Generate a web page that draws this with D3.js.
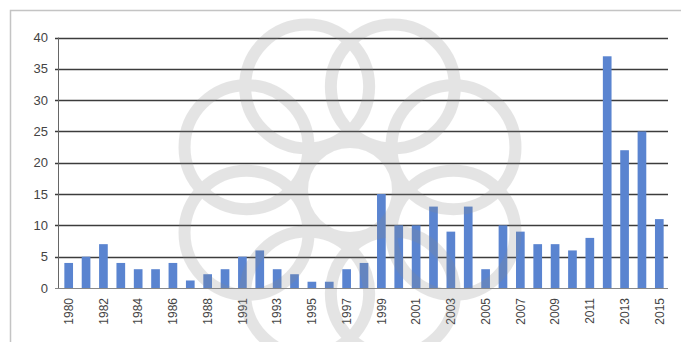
<!DOCTYPE html>
<html>
<head>
<meta charset="utf-8">
<script src="https://cdn.jsdelivr.net/npm/d3@7"></script>
<style>
  body { margin: 0; background: #fff; }
  svg { display: block; }
</style>
</head>
<body>
<div id="chart"></div>
<script>
// years as shown on the axis (one year is skipped between 1988 and 1991)
const years = ["1980", "1981", "1982", "1983", "1984", "1985", "1986", "1987", "1988", "1990",
  "1991", "1992", "1993", "1994", "1995", "1996", "1997", "1998", "1999", "2000",
  "2001", "2002", "2003", "2004", "2005", "2006", "2007", "2008", "2009", "2010",
  "2011", "2012", "2013", "2014", "2015"];
const counts = [4, 5, 7, 4, 3, 3, 4, 1.2, 2.2, 3,
  5, 6, 3, 2.2, 1, 1, 3, 4, 15, 10,
  10, 13, 9, 13, 3, 10, 9, 7, 7, 6,
  8, 37, 22, 25, 11];
const yTicks = [0, 5, 10, 15, 20, 25, 30, 35, 40];

const WIDTH = 681, HEIGHT = 342;
const margin = { top: 37.5, left: 58, right: 13, bottom: 54 };

const svg = d3.select("#chart").append("svg")
  .attr("width", WIDTH)
  .attr("height", HEIGHT);

// outer frame of the figure
svg.append("rect")
  .attr("x", 10.5).attr("y", 10.5)
  .attr("width", 700).attr("height", 400)
  .attr("fill", "none")
  .attr("stroke", "#c4c4c4")
  .attr("stroke-width", 1.5);

const x = d3.scaleBand()
  .domain(years)
  .range([60, 668])
  .paddingInner(0.5)
  .paddingOuter(0.25);

const y = d3.scaleLinear()
  .domain([0, 40])
  .range([288, margin.top]);

// gridlines
svg.append("g")
  .selectAll("line")
  .data(yTicks.filter(d => d > 0))
  .join("line")
  .attr("x1", 55).attr("x2", 668)
  .attr("y1", d => Math.round(y(d)) + 0.5)
  .attr("y2", d => Math.round(y(d)) + 0.5)
  .attr("stroke", "#3c3c3c")
  .attr("stroke-width", 1.4);

// y axis labels
svg.append("g")
  .selectAll("text")
  .data(yTicks)
  .join("text")
  .attr("x", 48)
  .attr("y", d => y(d))
  .attr("dy", "0.36em")
  .attr("text-anchor", "end")
  .attr("font-family", "Liberation Sans, Arial, sans-serif")
  .attr("font-size", 13)
  .attr("fill", "#444")
  .text(d => d);

// bars
svg.append("g")
  .selectAll("rect")
  .data(years.map((d, i) => ({ year: d, value: counts[i] })))
  .join("rect")
  .attr("x", d => x(d.year))
  .attr("y", d => y(d.value))
  .attr("width", x.bandwidth())
  .attr("height", d => y(0) - y(d.value))
  .attr("fill", "#5a84d0");

// axis lines
svg.append("line")
  .attr("x1", 58.5).attr("x2", 58.5)
  .attr("y1", y(40)).attr("y2", y(0))
  .attr("stroke", "#666").attr("stroke-width", 1);
svg.append("line")
  .attr("x1", 55).attr("x2", 668)
  .attr("y1", y(0) + 0.5).attr("y2", y(0) + 0.5)
  .attr("stroke", "#888").attr("stroke-width", 1);

// x labels, every second year, rotated
svg.append("g")
  .selectAll("text")
  .data(years.filter((d, i) => i % 2 === 0))
  .join("text")
  .attr("transform", d => `translate(${x(d) + x.bandwidth() / 2}, 298) rotate(-90)`)
  .attr("dy", "0.36em")
  .attr("text-anchor", "end")
  .attr("font-family", "Liberation Sans, Arial, sans-serif")
  .attr("font-size", 12)
  .attr("fill", "#444")
  .text(d => d);

// faint watermark rosette over the chart
const wm = svg.append("g")
  .attr("fill", "none")
  .attr("stroke", "#8a8a8a")
  .attr("stroke-width", 12)
  .attr("opacity", 0.22);
const petals = d3.range(8);
wm.selectAll("circle.petal")
  .data(petals)
  .join("circle")
  .attr("class", "petal")
  .attr("cx", d => 350 + 112 * Math.cos(d * Math.PI / 4 + Math.PI / 8))
  .attr("cy", d => 190 + 112 * Math.sin(d * Math.PI / 4 + Math.PI / 8))
  .attr("r", 62);
wm.append("circle")
  .attr("cx", 350).attr("cy", 190).attr("r", 48);
</script>
</body>
</html>
